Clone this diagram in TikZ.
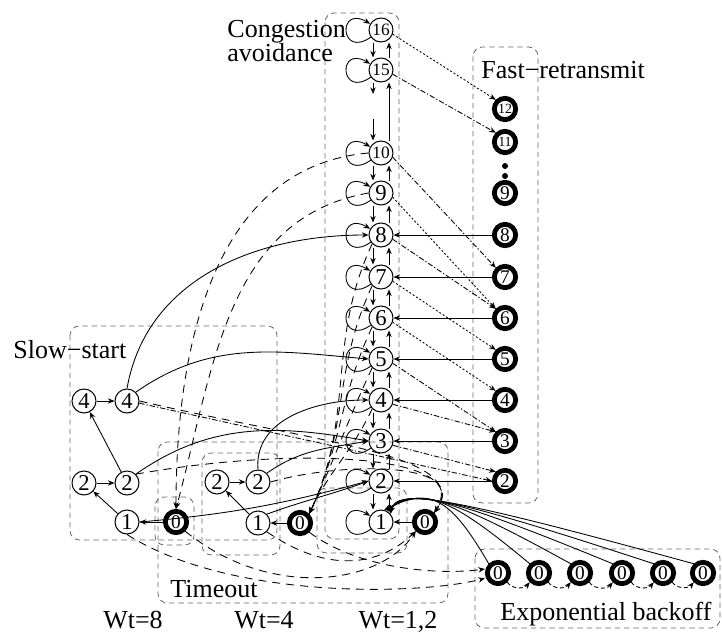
\documentclass[tikz,border=0pt]{standalone}
\usepackage{fontspec}
\setmainfont{Liberation Serif}
\usetikzlibrary{arrows.meta}
\tikzset{
  st/.style={circle, draw, line width=0.75pt, minimum size=18pt, inner sep=0pt, font=\fontsize{17}{17}\selectfont},
  stp/.style={st, font=\fontsize{13}{13}\selectfont},
  thk/.style={circle, draw, line width=3.6pt, minimum size=16pt, inner sep=0pt, font=\fontsize{14.5}{14.5}\selectfont},
  thkp/.style={thk, font=\fontsize{10.5}{10.5}\selectfont},
  dotn/.style={circle, fill, inner sep=0pt, minimum size=4.5pt},
  lbl/.style={font=\fontsize{19.5}{19.5}\selectfont, inner sep=0pt},
  box/.style={draw=black!60, dash pattern=on 4pt off 3pt, rounded corners=7pt, line width=0.6pt},
  tmo/.style={->, dash pattern=on 6pt off 4.5pt},
  frx/.style={->, dash pattern=on 1.5pt off 1.5pt},
  frd/.style={->, dash pattern=on 4pt off 1.5pt on 1pt off 1.5pt},
  selfl/.style={->, loop, out=215, in=150, min distance=10mm},
}
\begin{document}
\begin{tikzpicture}[x=0.75pt, y=-0.75pt, line width=0.65pt, >={Stealth[length=5pt,width=4pt]}]
\useasboundingbox (0,0) rectangle (722,632);

% Riquadri tratteggiati
\draw[box] (325,13) rectangle (399,539);
\draw[box] (473,47) rectangle (538,503);
\draw[box] (70,326) rectangle (277,540);
\draw[box] (158,442) rectangle (448,603);
\draw[box] (155,497) rectangle (194,545);
\draw[box] (202,453) rectangle (280,555);
\draw[box] (317,488) rectangle (407,553);
\draw[box] (475,549) rectangle (720,628);

% Stati di congestion avoidance
\foreach \n/\y in {16/30,15/70,10/153}
  \node[stp] (c\n) at (381,\y) {\n};
\foreach \n/\y in {9/193,8/235,7/277,6/318,5/359,4/400,3/441,2/481,1/522}
  \node[st] (c\n) at (381,\y) {\n};

% Stati di fast retransmit
\foreach \n/\y in {12/109,11/142}
  \node[thkp] (f\n) at (505,\y) {\n};
\foreach \n/\y in {9/193,8/235,7/277,6/318,5/359,4/400,3/441,2/481}
  \node[thk] (f\n) at (505,\y) {\n};
\node[dotn] (d1) at (505,166) {};
\node[dotn] (d2) at (505,176) {};

% Slow start e timeout
\node[st] (s4a) at (84,401) {4};
\node[st] (s4b) at (127,401) {4};
\node[st] (s2a) at (84,483) {2};
\node[st] (s2b) at (127,483) {2};
\node[st] (s1) at (127,522) {1};
\node[thk] (t0a) at (176,522) {0};
\node[st] (w2a) at (217,482) {2};
\node[st] (w2b) at (258,482) {2};
\node[st] (w1) at (258,523) {1};
\node[thk] (t0b) at (300,523) {0};
\node[thk] (t0c) at (425,522) {0};

% Exponential backoff
\foreach \i/\x in {1/498,2/539,3/580,4/622,5/663,6/703}
  \node[thk] (e\i) at (\x,573) {0};

% Etichette
\node[lbl, anchor=base west] (lca) at (227,37) {Congestion};
\node[lbl, anchor=base west] (lcb) at (227,61) {avoidance};
\node[lbl, anchor=base west] (lfr) at (481,78) {Fast−retransmit};
\node[lbl, anchor=base west] (lss) at (13,358) {Slow−start};
\node[lbl, anchor=base west] (lto) at (170,597) {Timeout};
\node[lbl, anchor=base] (lw8) at (133,628) {Wt=8};
\node[lbl, anchor=base] (lw4) at (264,628) {Wt=4};
\node[lbl, anchor=base] (lw12) at (398,628) {Wt=1,2};
\node[lbl, anchor=base west] (leb) at (500,620) {Exponential backoff};

% Colonna di congestion avoidance
\foreach \n in {16,15,10,9,8,7,6,5,4,3,2,1}
  \draw[selfl] (c\n) to (c\n);
\foreach \a/\b in {16/15,10/9,9/8,8/7,7/6,6/5,5/4,4/3,3/2,2/1} {
  \draw[->] ([xshift=-6pt]c\a.south) -- ([xshift=-6pt]c\b.north);
  \draw[->] ([xshift=6pt]c\b.north) -- ([xshift=6pt]c\a.south);
}
\coordinate (g1) at (373,94);
\coordinate (g2) at (373,119);
\draw[->] ([xshift=-6pt]c15.south) -- (g1);
\draw[->] (g2) -- ([xshift=-6pt]c10.north);
\draw[->] ([xshift=6pt]c10.north) -- ([xshift=6pt]c15.south);

% Fast retransmit
\foreach \n in {8,7,6,5,4,3,2}
  \draw[->] (f\n) -- (c\n);
\foreach \a/\b/\s in {16/12/frx,15/11/frd,10/7/frd,9/6/frx,8/6/frd,7/5/frx,6/4/frx,5/3/frd,4/3/frd,3/2/frd}
  \draw[\s] (c\a.-20) -- (f\b.north west);

% Slow start
\draw[->] (s4a) -- (s4b);
\draw[->] (s2a) -- (s2b);
\draw[->] (s1) -- (s2a);
\draw[->] (s2b) -- (s4a);
\draw[->] (t0a) -- (s1);
\draw[->] (w2a) -- (w2b);
\draw[->] (w1) -- (w2a);
\draw[->] (t0b) -- (w1);
\draw[->] (t0c) -- (c1);
\draw[->] (s4b.north) to[out=80, in=180] (c8.west);
\draw[->] (s4b.north east) to[out=35, in=175] (c5.west);
\draw[->] (s2b.north east) to[out=35, in=170] (c3.west);
\draw[->] (w2b.north) to[out=95, in=180] (c4.west);
\draw[->] (w2b.north east) to[out=35, in=190] (c3.west);
\draw[->] (s1.east) to[out=5, in=195] (c2.west);
\draw[->] (w1.north east) to[out=20, in=200] (c2.west);
\draw[frd] (s4b.-10) -- (f2.west);

% Timeout
\draw[tmo] (c10.west) to[out=185, in=90] (t0a.north);
\draw[tmo] (c9.west) to[out=190, in=75] (t0a.north);
\foreach \n in {8,7,6,5,4}
  \draw[tmo] (c\n.south west) to[out=245, in=65] (t0b.north east);
\draw[tmo] (s4b.east) .. controls (330,445) and (470,455) .. (t0c.north east);
\draw[tmo] (s2b.north east) .. controls (300,445) and (475,455) .. (t0c.north east);
\draw[tmo] (w2b.east) .. controls (340,462) and (472,460) .. (t0c.north east);
\draw[tmo] (s1.south) .. controls (230,600) and (420,595) .. ([yshift=-4pt]e1.west);
\draw[tmo] (t0a.south east) .. controls (270,600) and (380,585) .. (t0c.south west);
\draw[tmo] (w1.south east) .. controls (330,575) and (380,565) .. (t0c.south west);
\draw[tmo] (t0b.south east) .. controls (360,570) and (440,575) .. ([yshift=3pt]e1.west);

% Exponential backoff
\foreach \a/\b in {1/2,2/3,3/4,4/5,5/6}
  \draw[->, dash pattern=on 3pt off 2pt] (e\a.south east) to[out=-55, in=-130] (e\b.south west);
\foreach \i/\k/\x in {1/75,2/68,3/61,4/54,5/47,6/40}
  \draw[->] (e\i.north west) .. controls (450,497) and (\x+355,487) .. (c1.\k);
\end{tikzpicture}
\end{document}
